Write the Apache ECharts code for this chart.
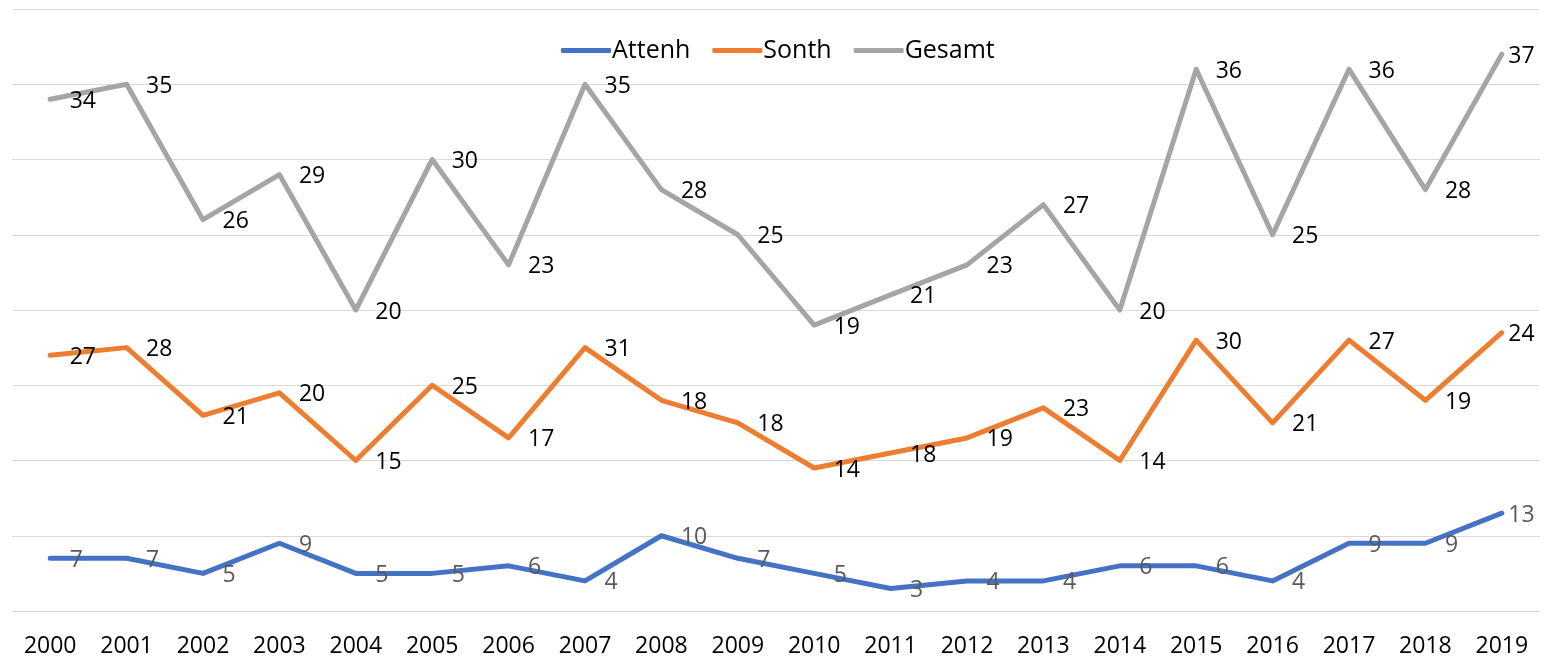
<!DOCTYPE html>
<html>
<head>
<meta charset="utf-8">
<script src="https://cdn.jsdelivr.net/npm/echarts@6/dist/echarts.min.js"></script>
<style>
  html, body { margin: 0; padding: 0; background: #fff; }
  #main { width: 1545px; height: 662px; }
</style>
</head>
<body>
<div id="main"></div>
<script>
// years on the x axis
var years = ['2000','2001','2002','2003','2004','2005','2006','2007','2008','2009',
             '2010','2011','2012','2013','2014','2015','2016','2017','2018','2019'];
// values per series (chart is stacked)
var attenh = [7, 7, 5, 9, 5, 5, 6, 4, 10, 7, 5, 3, 4, 4, 6, 6, 4, 9, 9, 13];
var sonth  = [27, 28, 21, 20, 15, 25, 17, 31, 18, 18, 14, 18, 19, 23, 14, 30, 21, 27, 19, 24];
var gesamt = [34, 35, 26, 29, 20, 30, 23, 35, 28, 25, 19, 21, 23, 27, 20, 36, 25, 36, 28, 37];

var font = '"Open Sans", "Noto Sans", sans-serif';

function makeSeries(name, data, color, labelColor) {
  // last label sits closer to the point so it stays inside the chart
  var items = data.map(function (v, i) {
    if (i === data.length - 1) {
      return { value: v, label: { distance: 6 } };
    }
    return v;
  });
  return {
    name: name,
    type: 'line',
    stack: 'total',
    data: items,
    symbol: 'circle',
    symbolSize: 1,
    showSymbol: true,
    lineStyle: { width: 5, color: color, cap: 'round', join: 'round' },
    itemStyle: { color: color },
    label: {
      show: true,
      position: 'right',
      distance: 19,
      offset: [0, 2],
      color: labelColor,
      fontSize: 23,
      fontFamily: font
    },
    emphasis: { disabled: true }
  };
}

var chart = echarts.init(document.getElementById('main'));
chart.setOption({
  animation: false,
  textStyle: { fontFamily: font },
  legend: {
    top: 33,
    left: 556,
    itemWidth: 50,
    itemHeight: 5,
    itemGap: 22,
    icon: 'roundRect',
    textStyle: { fontSize: 25, color: '#000', fontFamily: font, padding: [0, 0, 0, -4] },
    data: ['Attenh', 'Sonth', 'Gesamt']
  },
  grid: { left: 12, right: 5, top: 9, bottom: 51, containLabel: false },
  xAxis: {
    type: 'category',
    data: years,
    boundaryGap: true,
    axisLine: { show: false },
    axisTick: { show: false },
    axisLabel: { fontSize: 23, color: '#000', margin: 24, fontFamily: font, interval: 0 }
  },
  yAxis: {
    type: 'value',
    min: 0,
    max: 80,
    interval: 10,
    axisLabel: { show: false },
    axisLine: { show: false },
    axisTick: { show: false },
    splitLine: { lineStyle: { color: '#D9D9D9', width: 1 } }
  },
  series: [
    makeSeries('Attenh', attenh, '#4472C4', '#595959'),
    makeSeries('Sonth', sonth, '#ED7D31', '#000'),
    makeSeries('Gesamt', gesamt, '#A5A5A5', '#000')
  ]
});
</script>
</body>
</html>
